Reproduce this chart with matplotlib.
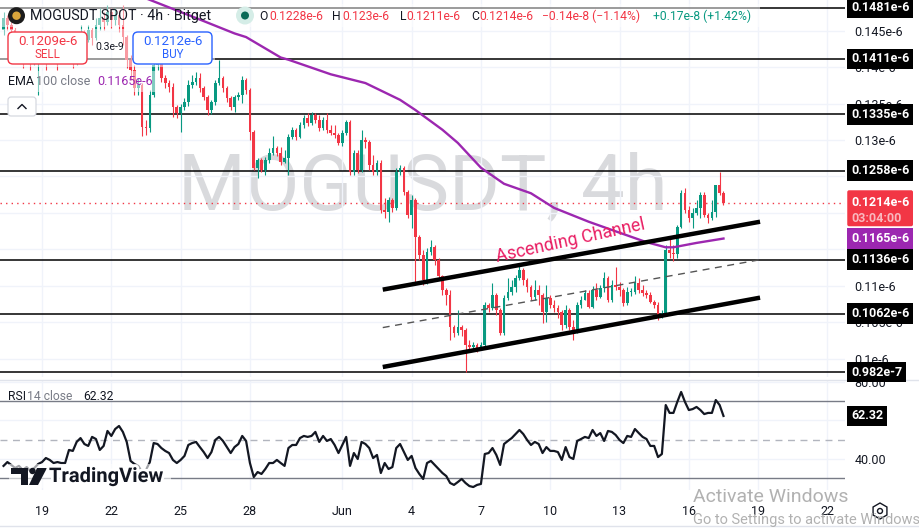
import numpy as np
import pandas as pd
import matplotlib
matplotlib.use('Agg')
import matplotlib.pyplot as plt
import matplotlib.dates as mdates
import matplotlib.transforms as mtransforms
import matplotlib.patheffects as pe
from matplotlib.patches import FancyBboxPatch, Rectangle, Circle, Polygon, RegularPolygon

plt.rcParams['font.family'] = ['Roboto', 'DejaVu Sans']

# ---- data (prices in units of 1e-6), 4h candles ----
start = '2024-05-17 08:00'
first_open = 0.1451
close = [
    0.1467, 0.1458, 0.1451, 0.1430, 0.1437, 0.1417, 0.1423, 0.1410, 0.1417, 0.1430,
    0.1423, 0.1410, 0.1421, 0.1430, 0.1417, 0.1423, 0.1437, 0.1426, 0.1410, 0.1421,
    0.1444, 0.1437, 0.1451, 0.1440, 0.1458, 0.1467, 0.1462, 0.1476, 0.1465, 0.1471,
    0.1458, 0.1441, 0.1410, 0.1396, 0.1371, 0.1376, 0.1318, 0.1317, 0.1362, 0.1403,
    0.1406, 0.1385, 0.1378, 0.1373, 0.1345, 0.1337, 0.1345, 0.1352, 0.1376, 0.1380,
    0.1385, 0.1371, 0.1359, 0.1341, 0.1352, 0.1378, 0.1385, 0.1371, 0.1358, 0.1345,
    0.1359, 0.1362, 0.1382, 0.1369, 0.1311, 0.1262, 0.1273, 0.1259, 0.1273, 0.1282,
    0.1289, 0.1282, 0.1270, 0.1276, 0.1304, 0.1314, 0.1304, 0.1321, 0.1330, 0.1323,
    0.1334, 0.1328, 0.1317, 0.1328, 0.1314, 0.1310, 0.1307, 0.1296, 0.1310, 0.1325,
    0.1256, 0.1282, 0.1259, 0.1300, 0.1297, 0.1266, 0.1256, 0.1269, 0.1204, 0.1202,
    0.1218, 0.1207, 0.1256, 0.1262, 0.1229, 0.1197, 0.1218, 0.1167, 0.1143, 0.1108,
    0.1147, 0.1154, 0.1136, 0.1113, 0.1095, 0.1088, 0.1044, 0.1036, 0.1044, 0.1040,
    0.1019, 0.1017, 0.1019, 0.1015, 0.1019, 0.1074, 0.1070, 0.1088, 0.1067, 0.1036,
    0.1084, 0.1092, 0.1099, 0.1111, 0.1122, 0.1108, 0.1099, 0.1085, 0.1095, 0.1088,
    0.1065, 0.1084, 0.1074, 0.1070, 0.1065, 0.1047, 0.1067, 0.1044, 0.1037, 0.1074,
    0.1081, 0.1091, 0.1071, 0.1095, 0.1085, 0.1097, 0.1111, 0.1081, 0.1102, 0.1099,
    0.1095, 0.1077, 0.1092, 0.1092, 0.1104, 0.1095, 0.1091, 0.1088, 0.1078, 0.1074,
    0.1058, 0.1063, 0.1149, 0.1145, 0.1144, 0.1181, 0.1228, 0.1204, 0.1193, 0.1200,
    0.1207, 0.1225, 0.1197, 0.1193, 0.1202, 0.1239, 0.1228, 0.1214,
]
high = [
    0.1476, 0.1471, 0.1462, 0.1454, 0.1444, 0.1440, 0.1430, 0.1426, 0.1423, 0.1437,
    0.1434, 0.1430, 0.1426, 0.1437, 0.1434, 0.1430, 0.1444, 0.1440, 0.1430, 0.1426,
    0.1458, 0.1451, 0.1458, 0.1454, 0.1467, 0.1481, 0.1476, 0.1485, 0.1481, 0.1481,
    0.1478, 0.1485, 0.1444, 0.1417, 0.1403, 0.1385, 0.1378, 0.1328, 0.1369, 0.1410,
    0.1423, 0.1407, 0.1389, 0.1382, 0.1378, 0.1348, 0.1350, 0.1358, 0.1382, 0.1389,
    0.1393, 0.1392, 0.1374, 0.1362, 0.1355, 0.1382, 0.1410, 0.1388, 0.1374, 0.1360,
    0.1362, 0.1366, 0.1388, 0.1385, 0.1371, 0.1314, 0.1276, 0.1276, 0.1277, 0.1289,
    0.1306, 0.1292, 0.1291, 0.1286, 0.1308, 0.1318, 0.1317, 0.1325, 0.1334, 0.1337,
    0.1339, 0.1337, 0.1334, 0.1332, 0.1337, 0.1321, 0.1321, 0.1310, 0.1314, 0.1328,
    0.1328, 0.1286, 0.1286, 0.1314, 0.1304, 0.1300, 0.1280, 0.1273, 0.1273, 0.1221,
    0.1222, 0.1221, 0.1262, 0.1266, 0.1265, 0.1232, 0.1225, 0.1221, 0.1170, 0.1149,
    0.1152, 0.1163, 0.1156, 0.1139, 0.1115, 0.1097, 0.1095, 0.1047, 0.1067, 0.1047,
    0.1043, 0.1026, 0.1023, 0.1022, 0.1023, 0.1078, 0.1077, 0.1104, 0.1091, 0.1070,
    0.1088, 0.1111, 0.1108, 0.1115, 0.1130, 0.1125, 0.1111, 0.1102, 0.1108, 0.1102,
    0.1091, 0.1102, 0.1088, 0.1081, 0.1074, 0.1067, 0.1074, 0.1070, 0.1054, 0.1078,
    0.1086, 0.1095, 0.1095, 0.1100, 0.1104, 0.1102, 0.1119, 0.1114, 0.1108, 0.1126,
    0.1106, 0.1097, 0.1099, 0.1097, 0.1114, 0.1111, 0.1102, 0.1095, 0.1092, 0.1081,
    0.1078, 0.1067, 0.1156, 0.1166, 0.1156, 0.1184, 0.1232, 0.1234, 0.1210, 0.1207,
    0.1218, 0.1229, 0.1229, 0.1200, 0.1218, 0.1239, 0.1256, 0.1230,
]
low = [
    0.1444, 0.1451, 0.1440, 0.1417, 0.1423, 0.1399, 0.1410, 0.1396, 0.1403, 0.1362,
    0.1413, 0.1396, 0.1406, 0.1417, 0.1396, 0.1410, 0.1417, 0.1417, 0.1399, 0.1403,
    0.1417, 0.1426, 0.1434, 0.1430, 0.1437, 0.1451, 0.1451, 0.1458, 0.1454, 0.1458,
    0.1448, 0.1430, 0.1399, 0.1382, 0.1362, 0.1362, 0.1306, 0.1307, 0.1311, 0.1359,
    0.1396, 0.1380, 0.1371, 0.1366, 0.1332, 0.1330, 0.1311, 0.1341, 0.1347, 0.1371,
    0.1376, 0.1366, 0.1355, 0.1334, 0.1336, 0.1348, 0.1376, 0.1366, 0.1352, 0.1341,
    0.1339, 0.1355, 0.1351, 0.1363, 0.1300, 0.1259, 0.1248, 0.1256, 0.1252, 0.1269,
    0.1280, 0.1278, 0.1266, 0.1269, 0.1252, 0.1302, 0.1300, 0.1303, 0.1317, 0.1319,
    0.1321, 0.1323, 0.1313, 0.1314, 0.1310, 0.1307, 0.1303, 0.1293, 0.1292, 0.1307,
    0.1252, 0.1252, 0.1255, 0.1256, 0.1289, 0.1259, 0.1252, 0.1252, 0.1200, 0.1193,
    0.1188, 0.1202, 0.1204, 0.1252, 0.1225, 0.1193, 0.1180, 0.1104, 0.1136, 0.1102,
    0.1103, 0.1143, 0.1129, 0.1108, 0.1088, 0.1074, 0.1026, 0.1030, 0.1033, 0.1032,
    0.0982, 0.1010, 0.1012, 0.1010, 0.1012, 0.1015, 0.1065, 0.1067, 0.1060, 0.1033,
    0.1033, 0.1081, 0.1088, 0.1092, 0.1108, 0.1102, 0.1092, 0.1081, 0.1081, 0.1074,
    0.1049, 0.1051, 0.1070, 0.1065, 0.1056, 0.1040, 0.1043, 0.1040, 0.1026, 0.1036,
    0.1070, 0.1081, 0.1070, 0.1070, 0.1081, 0.1084, 0.1092, 0.1078, 0.1078, 0.1095,
    0.1086, 0.1073, 0.1074, 0.1086, 0.1089, 0.1091, 0.1086, 0.1084, 0.1076, 0.1070,
    0.1054, 0.1056, 0.1060, 0.1139, 0.1134, 0.1139, 0.1180, 0.1200, 0.1188, 0.1180,
    0.1197, 0.1193, 0.1195, 0.1186, 0.1191, 0.1195, 0.1225, 0.1211,
]
rsi = [
    36.3, 38.3, 36.8, 35.2, 36.3, 34.2, 35.7, 33.6, 35.2, 37.3,
    38.3, 40.4, 39.4, 37.8, 38.3, 37.8, 37.8, 44.6, 44.1, 48.8,
    50.8, 47.7, 46.7, 51.4, 50.3, 44.6, 46.7, 54.5, 51.9, 55.5,
    57.1, 54.0, 48.8, 38.9, 37.3, 36.3, 33.1, 34.2, 38.3, 48.2,
    47.7, 45.6, 44.1, 43.0, 39.4, 37.8, 39.4, 41.5, 47.2, 48.2,
    48.8, 46.1, 43.5, 40.4, 43.5, 49.8, 51.4, 49.3, 46.1, 43.0,
    46.1, 47.7, 51.9, 49.3, 37.8, 30.5, 33.1, 32.1, 34.7, 37.8,
    37.8, 39.4, 37.8, 36.3, 45.6, 47.2, 47.2, 50.8, 51.9, 51.4,
    51.9, 54.0, 48.8, 51.9, 49.3, 50.3, 47.2, 43.0, 47.2, 51.4,
    36.3, 43.0, 39.9, 48.8, 47.7, 45.6, 40.4, 42.0, 32.6, 37.8,
    34.7, 35.7, 45.6, 47.7, 43.5, 39.4, 41.5, 35.2, 32.1, 29.5,
    37.8, 38.9, 36.8, 34.7, 32.6, 31.0, 27.4, 26.4, 27.9, 29.5,
    27.4, 25.8, 25.3, 26.4, 26.9, 42.5, 43.0, 45.6, 42.0, 36.8,
    47.7, 49.3, 50.8, 52.9, 55.0, 52.9, 49.8, 47.2, 48.8, 47.7,
    43.0, 46.1, 44.1, 44.1, 43.5, 39.4, 46.1, 40.9, 39.9, 49.3,
    50.3, 51.4, 50.8, 55.0, 51.9, 53.4, 49.3, 54.5, 54.0, 52.4,
    49.8, 48.2, 51.9, 51.4, 55.5, 53.4, 51.4, 50.3, 46.7, 46.7,
    40.9, 42.5, 68.0, 63.9, 63.9, 69.6, 74.8, 69.6, 65.4, 65.9,
    67.0, 65.4, 63.3, 63.9, 63.9, 70.6, 68.0, 62.32,
]
# EMA 100 read at some candles (candle index, value)
ema_idx = [25, 38, 51, 60, 63, 72, 74, 85, 94, 103, 107, 114, 118, 124, 130, 137,
           143, 152, 160, 167, 172, 174, 180, 187]
ema_val = [0.1519, 0.1492, 0.1465, 0.1446, 0.1441, 0.1413, 0.1410, 0.1390, 0.1378,
           0.1355, 0.1341, 0.1314, 0.1296, 0.1262, 0.1240, 0.1227, 0.1207, 0.1188,
           0.1173, 0.1160, 0.1153, 0.1153, 0.1159, 0.1165]

levels = [0.1481, 0.1411, 0.1335, 0.1258, 0.1136, 0.1062, 0.0982]
level_labels = ['0.1481e-6', '0.1411e-6', '0.1335e-6', '0.1258e-6',
                '0.1136e-6', '0.1062e-6', '0.982e-7']
last_price = 0.1214
ema_last = 0.1165
rsi_last = 62.32

channel_t = ['2024-06-02 18:00', '2024-06-19 02:00']
channel_upper = [0.1095, 0.1188]
channel_mid = [0.1043, 0.1136]
channel_lower = [0.0989, 0.1084]
label_t, label_p = '2024-06-10 21:00', 0.1162

price_ticks = [0.100, 0.105, 0.110, 0.115, 0.120, 0.125, 0.130, 0.135, 0.140, 0.145]
rsi_ticks = [40, 60, 80]
date_ticks = ['2024-05-19', '2024-05-22', '2024-05-25', '2024-05-28', '2024-06-01',
              '2024-06-04', '2024-06-07', '2024-06-10', '2024-06-13', '2024-06-16',
              '2024-06-19', '2024-06-22']
date_labels = ['19', '22', '25', '28', 'Jun', '4', '7', '10', '13', '16', '19', '22']

# ---- colours ----
UP, DOWN = '#089981', '#f23645'
INK, GREY, GRID = '#131722', '#787b86', '#f0f3fa'
PURPLE = '#9c27b0'

W, H = 920, 531
fig = plt.figure(figsize=(W / 100, H / 100), dpi=100)
PX = mtransforms.Affine2D().scale(1 / W, -1 / H).translate(0, 1) + fig.transFigure

ax = fig.add_axes([0, 1 - 377 / H, 845 / W, 377 / H])
ax2 = fig.add_axes([0, 41 / H, 845 / W, 110 / H], sharex=ax)
ax.set_zorder(2)
for a in (ax, ax2):
    a.patch.set_visible(False)
    for s in a.spines.values():
        s.set_visible(False)
    a.grid(True, color=GRID, lw=1)
    a.set_axisbelow(True)
    a.yaxis.tick_right()
    a.tick_params(axis='y', length=0, pad=7, labelsize=9, labelcolor=INK)

t = mdates.date2num(pd.date_range(start, periods=len(close), freq='4h'))
c = np.array(close)
o = np.r_[first_open, c[:-1]]
hi = np.maximum(np.array(high), np.maximum(o, c))
lo = np.minimum(np.array(low), np.minimum(o, c))
col = np.where(c >= o, UP, DOWN)

ax.set_xlim(mdates.date2num(pd.Timestamp('2024-05-17 04:20')),
            mdates.date2num(pd.Timestamp('2024-06-22 18:15')))
ax.set_ylim(0.09753, 0.14918)

ax.text(0.5, 0.5, 'MOGUSDT, 4h', transform=ax.transAxes, ha='center', va='center',
        fontsize=56, color='#d9dadd', zorder=0.5)

ax.vlines(t, lo, hi, colors=col, lw=0.8, zorder=3)
ax.bar(t, np.maximum(np.abs(c - o), 0.00012), bottom=np.minimum(o, c), width=0.115,
       color=col, linewidth=0, zorder=3.1)

ax.plot(t[ema_idx], ema_val, color=PURPLE, lw=1.7, zorder=4)

for p in levels:
    ax.axhline(p, color='black', lw=1.1, zorder=2.6)
ax.axhline(last_price, color=DOWN, lw=1, ls=(0, (1, 3)), zorder=2.6)

ct = mdates.date2num(pd.to_datetime(channel_t))
ax.plot(ct, channel_upper, color='black', lw=3.2, zorder=5, solid_capstyle='butt')
ax.plot(ct, channel_lower, color='black', lw=3.2, zorder=5, solid_capstyle='butt')
ax.plot(ct, channel_mid, color='#555555', lw=1, ls=(0, (5, 4)), zorder=5)
ax.text(mdates.date2num(pd.Timestamp(label_t)), label_p, 'Ascending Channel',
        rotation=12.5, rotation_mode='anchor', ha='center', va='center',
        fontsize=12.8, color='#e91e63', zorder=6)

ax.set_yticks(price_ticks)
ax.set_yticklabels([f'{v:g}e-6' for v in price_ticks])
ax.tick_params(axis='x', length=0, labelbottom=False)

# right-hand price labels
bt = mtransforms.blended_transform_factory(ax.transAxes, ax.transData)
lx = 851 / 845
for p, s in zip(levels, level_labels):
    ax.text(lx, p, s, transform=bt, ha='left', va='center', fontsize=9,
            fontweight='bold', color='white', clip_on=False, zorder=20,
            bbox=dict(boxstyle='square,pad=0.3', fc='black', ec='none'))
ax.annotate(f'{last_price:g}e-6\n03:04:00', xy=(lx, last_price), xycoords=bt,
            xytext=(0, 6.3), textcoords='offset points', ha='left', va='top',
            fontsize=9, fontweight='bold', color=DOWN, linespacing=1.25,
            annotation_clip=False, zorder=20,
            bbox=dict(boxstyle='round,pad=0.3,rounding_size=0.15', fc=DOWN, ec='none'))
ax.annotate(f'{last_price:g}e-6', xy=(lx, last_price), xycoords=bt, ha='left',
            va='center', fontsize=9, fontweight='bold', color='white',
            annotation_clip=False, zorder=21)
ax.annotate('03:04:00', xy=(lx, last_price), xycoords=bt, xytext=(0, -11),
            textcoords='offset points', ha='left', va='center', fontsize=9,
            fontweight='bold', color='#f9b8be', annotation_clip=False, zorder=21)
ax.text(lx, ema_last, f'{ema_last:g}e-6', transform=bt, ha='left', va='center',
        fontsize=9, fontweight='bold', color='white', clip_on=False, zorder=20,
        bbox=dict(boxstyle='square,pad=0.3', fc=PURPLE, ec='none'))

# ---- RSI pane ----
ax2.set_ylim(23.75, 81.04)
ax2.axhline(70, color=GREY, lw=1)
ax2.axhline(30, color=GREY, lw=1)
ax2.axhline(50, color='#b2b5be', lw=1, ls=(0, (5, 4)))
ax2.plot(t, rsi, color=INK, lw=1.6, zorder=4)
ax2.set_yticks(rsi_ticks)
ax2.set_yticklabels([f'{v:.2f}' for v in rsi_ticks])
bt2 = mtransforms.blended_transform_factory(ax2.transAxes, ax2.transData)
ax2.text(lx, rsi_last, f'{rsi_last:.2f}', transform=bt2, ha='left', va='center',
         fontsize=9, fontweight='bold', color='white', clip_on=False, zorder=20,
         bbox=dict(boxstyle='square,pad=0.3', fc='black', ec='none'))
ax2.set_xticks(mdates.date2num(pd.to_datetime(date_ticks)))
ax2.set_xticklabels(date_labels)
ax2.tick_params(axis='x', length=0, pad=11, labelsize=9, labelcolor=INK)

# ---- legend overlays (pixel coordinates) ----
for x0, y0, w, h in [(0, 4, 760, 23), (0, 29, 215, 38), (0, 71, 160, 21)]:
    ax.add_patch(Rectangle((x0, y0), w, h, transform=PX, fc='white', ec='none',
                           alpha=0.5, zorder=3.5, clip_on=False))


def ftext(x, y, s, **kw):
    kw.setdefault('zorder', 6)
    kw.setdefault('va', 'center')
    fig.text(x, y, s, transform=PX, **kw)


def fpatch(p):
    p.set_transform(PX)
    p.set_zorder(5)
    fig.add_artist(p)


fpatch(Circle((16.5, 15.7), 8.5, fc='#1c1c1c', ec='none'))
fpatch(Circle((16.5, 15.7), 4.2, fc='#d9a53c', ec='none'))
ftext(30, 15.7, 'MOGUSDT SPOT · 4h · Bitget', fontsize=10.3, color=INK)
fpatch(Circle((245, 15.5), 9, fc='#d5ede7', ec='none'))
fpatch(Circle((245, 15.5), 4, fc='#0b6b58', ec='none'))
for x, s, cc in [(259, 'O', INK), (269, '0.1228e-6', DOWN), (332, 'H', INK),
                 (342, '0.123e-6', DOWN), (400, 'L', INK), (406, '0.1211e-6', DOWN),
                 (471, 'C', INK), (479, '0.1214e-6', DOWN),
                 (542, '−0.14e-8 (−1.14%)', DOWN), (653, '+0.17e-8 (+1.42%)', UP)]:
    ftext(x, 16, s, fontsize=8.7, color=cc)

for x0, ec, price, word in [(8, DOWN, '0.1209e-6', 'SELL'), (133, '#2962ff', '0.1212e-6', 'BUY')]:
    fpatch(FancyBboxPatch((x0, 32), 79, 32, boxstyle='round,pad=0,rounding_size=5',
                          fc='white', ec=ec, lw=1))
    ftext(x0 + 39.5, 41.5, price, fontsize=9.6, color=ec, ha='center')
    ftext(x0 + 39.5, 55, word, fontsize=8.3, color=ec, ha='center')
ftext(110, 47.5, '0.3e-9', fontsize=7.5, color=INK, ha='center')

ftext(8, 81.5, 'EMA', fontsize=9, color=INK)
ftext(36, 81.5, '100 close', fontsize=9, color=GREY)
ftext(97, 81.5, '0.1165e-6', fontsize=9, color=PURPLE)
fpatch(FancyBboxPatch((8, 97), 28, 19, boxstyle='round,pad=0,rounding_size=3',
                      fc='white', ec='#d1d4dc', lw=0.8))
fig.add_artist(plt.Line2D([18, 22, 26], [108.5, 104.5, 108.5], transform=PX,
                          color=INK, lw=1, zorder=6))

ftext(8, 396, 'RSI', fontsize=8.7, color=INK)
ftext(27, 396, '14 close', fontsize=8.7, color=GREY)
ftext(83, 396, '62.32', fontsize=8.7, color=INK)

# TradingView logo
halo = [pe.withStroke(linewidth=4, foreground='white')]
fpatch(Rectangle((9, 464), 162, 24, fc='white', ec='none', alpha=0.6))
fpatch(Polygon([(11, 468), (28, 468), (28, 485), (21, 485), (21, 474), (11, 474)],
               fc=INK, ec='none'))
fpatch(Circle((32.5, 471), 3.2, fc=INK, ec='none'))
fpatch(Polygon([(37, 468), (47, 468), (38, 485), (29, 485)], fc=INK, ec='none'))
ftext(49, 476.5, 'TradingView', fontsize=14.5, fontweight='bold', color=INK,
      path_effects=halo)

# separators
for yy in (379.5, 525.5):
    fig.add_artist(plt.Line2D([0, W], [yy, yy], transform=PX, color='#e0e3eb',
                              lw=1, zorder=1))

# settings gear and OS watermark
fpatch(RegularPolygon((880, 511), 6, radius=8, fc='none', ec=INK, lw=1))
fpatch(Circle((880, 511), 2.5, fc='none', ec=INK, lw=1))
ftext(693, 497, 'Activate Windows', fontsize=14, color='#a9a9a9', alpha=0.9, zorder=7)
ftext(693, 520, 'Go to Settings to activate Windows.', fontsize=10.5,
      color='#a9a9a9', alpha=0.9, zorder=7)

fig.savefig('out.png', dpi=100)
